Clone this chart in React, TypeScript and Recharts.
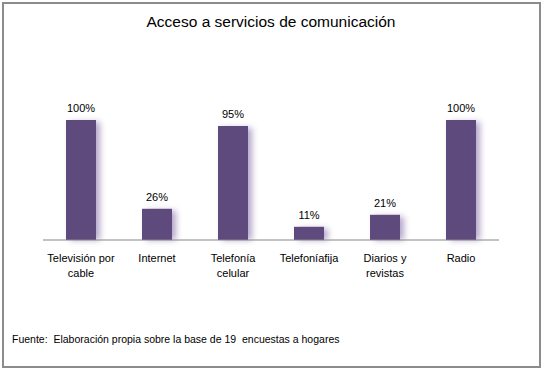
import React from 'react';
import { BarChart, Bar, XAxis, YAxis, LabelList } from 'recharts';

const categories = ['Televisión por|cable', 'Internet', 'Telefonía|celular', 'Telefoníafija', 'Diarios y|revistas', 'Radio'];
const values = [100, 26, 95, 11, 21, 100];
const title = 'Acceso a servicios de comunicación';
const source = 'Fuente:  Elaboración propia sobre la base de 19  encuestas a hogares';

const data = categories.map((c, i) => ({ name: c, value: values[i] }));

const FONT = '"Liberation Sans", Arial, sans-serif';

const Tick = (props: any) => {
  const { x, y, payload } = props;
  const lines = String(payload.value).split('|');
  return (
    <text x={x} y={y} textAnchor="middle" fontFamily={FONT} fontSize={11} fill="#000">
      {lines.map((l: string, i: number) => (
        <tspan key={i} x={x} dy={i === 0 ? 14 : 15}>{l}</tspan>
      ))}
    </text>
  );
};

const BarShape = (props: any) => {
  const { x, y, width, height } = props;
  if (!height || height <= 0) return null;
  return (
    <g>
      <rect x={x + 4} y={y + 2} width={width} height={height - 2} fill="#b4a6ca" style={{ filter: 'blur(3px)' }} />
      <rect x={x} y={y} width={width} height={height} fill="#5e4a7c" />
    </g>
  );
};

export default function App() {
  return (
    <div style={{ position: 'fixed', left: 0, top: 0, width: 542, height: 369, background: '#fff' }}>
      <div style={{ position: 'absolute', left: 2, top: 2, width: 535, height: 362, border: '2px solid #8c8c8c' }} />
      <div style={{ position: 'absolute', left: 0, top: 13, width: 542, textAlign: 'center', fontFamily: FONT, fontSize: 15.5, color: '#000' }}>{title}</div>
      <BarChart width={542} height={369} data={data} margin={{ top: 120, right: 43, bottom: 99, left: 43 }} barCategoryGap={23}>
        <YAxis hide domain={[0, 100]} />
        <XAxis dataKey="name" height={30} axisLine={{ stroke: '#868686', strokeWidth: 1 }} tickLine={false} tick={<Tick />} interval={0} />
        <Bar dataKey="value" barSize={30} isAnimationActive={false} shape={<BarShape />}>
          <LabelList dataKey="value" position="top" offset={8} formatter={(v: any) => `${v}%`} style={{ fontFamily: FONT, fontSize: 11, fill: '#000' }} />
        </Bar>
      </BarChart>
      <div style={{ position: 'absolute', left: 12, top: 333, fontFamily: FONT, fontSize: 10.5, color: '#000', whiteSpace: 'pre' }}>{source}</div>
    </div>
  );
}
